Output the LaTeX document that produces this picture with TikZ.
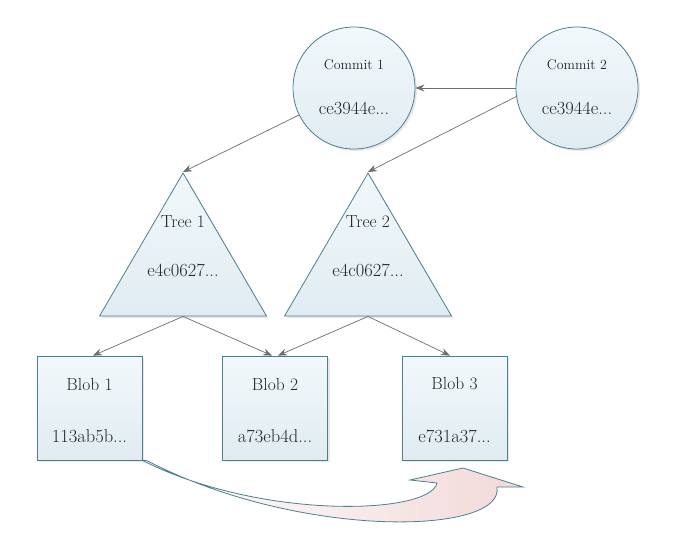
\documentclass[tikz,border=0pt]{standalone}
\usepackage{fontspec}
\usetikzlibrary{shapes.geometric,arrows.meta,shadows}
\definecolor{edge}{HTML}{4E7F91}
\definecolor{filltop}{HTML}{F2F8FB}
\definecolor{fillbot}{HTML}{E0ECF2}
\definecolor{conncol}{HTML}{6E6E6E}
\definecolor{pinkish}{HTML}{F2D9D9}
\newcommand{\fsz}[1]{\fontsize{#1}{#1}\selectfont}
\begin{document}
\begin{tikzpicture}[x=1pt,y=-1pt,
  objbase/.style={draw=edge, line width=0.8pt, top color=filltop, bottom color=fillbot,
    drop shadow={shadow xshift=2pt, shadow yshift=-2pt, opacity=0.18, fill=gray}},
  commit/.style={objbase, circle, minimum size=122pt, inner sep=0pt},
  treeshape/.style={objbase, isosceles triangle, shape border rotate=90,
    isosceles triangle stretches, minimum width=167pt, minimum height=143pt, inner sep=0pt},
  blobbox/.style={objbase, rectangle, minimum width=105pt, minimum height=104pt, inner sep=0pt},
  lbl/.style={inner sep=0pt, text=black!85},
  conn/.style={draw=conncol, line width=0.7pt, -{Stealth[length=9pt,width=7pt]}},
  bigarrow/.style={draw=edge, line width=0.8pt, left color=white, right color=pinkish}
]
\useasboundingbox (0,0) rectangle (677,552);

% commits
\node[commit] (c1) at (354,88) {};
\node[commit] (c2) at (577,88) {};
\node[lbl, font=\fsz{14}] (c1n) at (354,65) {Commit 1};
\node[lbl, font=\fsz{18.5}] (c1h) at (354,108) {ce3944e...};
\node[lbl, font=\fsz{14}] (c2n) at (577,65) {Commit 2};
\node[lbl, font=\fsz{18.5}] (c2h) at (577,108) {ce3944e...};

% trees
\node[treeshape, anchor=apex] (t1) at (183,172) {};
\node[treeshape, anchor=apex] (t2) at (368,172) {};
\node[lbl, font=\fsz{17.5}] (t1n) at (183,222) {Tree 1};
\node[lbl, font=\fsz{18.5}] (t1h) at (183,270) {e4c0627...};
\node[lbl, font=\fsz{17.5}] (t2n) at (368,222) {Tree 2};
\node[lbl, font=\fsz{18.5}] (t2h) at (368,270) {e4c0627...};

% blobs
\node[blobbox] (b1) at (89.5,408) {};
\node[blobbox] (b2) at (275,408) {};
\node[blobbox] (b3) at (454.5,408) {};
\node[lbl, font=\fsz{17.5}] (b1n) at (89.5,384) {Blob 1};
\node[lbl, font=\fsz{18.5}] (b1h) at (89.5,436) {113ab5b...};
\node[lbl, font=\fsz{17.5}] (b2n) at (275,384) {Blob 2};
\node[lbl, font=\fsz{18.5}] (b2h) at (275,436) {a73eb4d...};
\node[lbl, font=\fsz{17.5}] (b3n) at (454.5,384) {Blob 3};
\node[lbl, font=\fsz{18.5}] (b3h) at (454.5,436) {e731a37...};

% connectors
\draw[conn] (c2.west) -- (c1.east);
\draw[conn] (c1) -- (t1.apex);
\draw[conn] (c2.188) -- (t2.apex);
\draw[conn] (t1.lower side) -- ([xshift=3.5pt]b1.north);
\draw[conn] (t1.lower side) -- ([xshift=-3pt]b2.north);
\draw[conn] (t2.lower side) -- ([xshift=3pt]b2.north);
\draw[conn] (t2.lower side) -- ([xshift=-4.5pt]b3.north);

% big curved arrow
\path[bigarrow] (b1.south east) .. controls (260,520) and (430,515) .. (437,483)
  -- (410,480) -- (463,468) -- (523,487) -- (497,487)
  .. controls (505,535) and (300,540) .. ([xshift=4pt]b1.south east) -- cycle;
\end{tikzpicture}
\end{document}
